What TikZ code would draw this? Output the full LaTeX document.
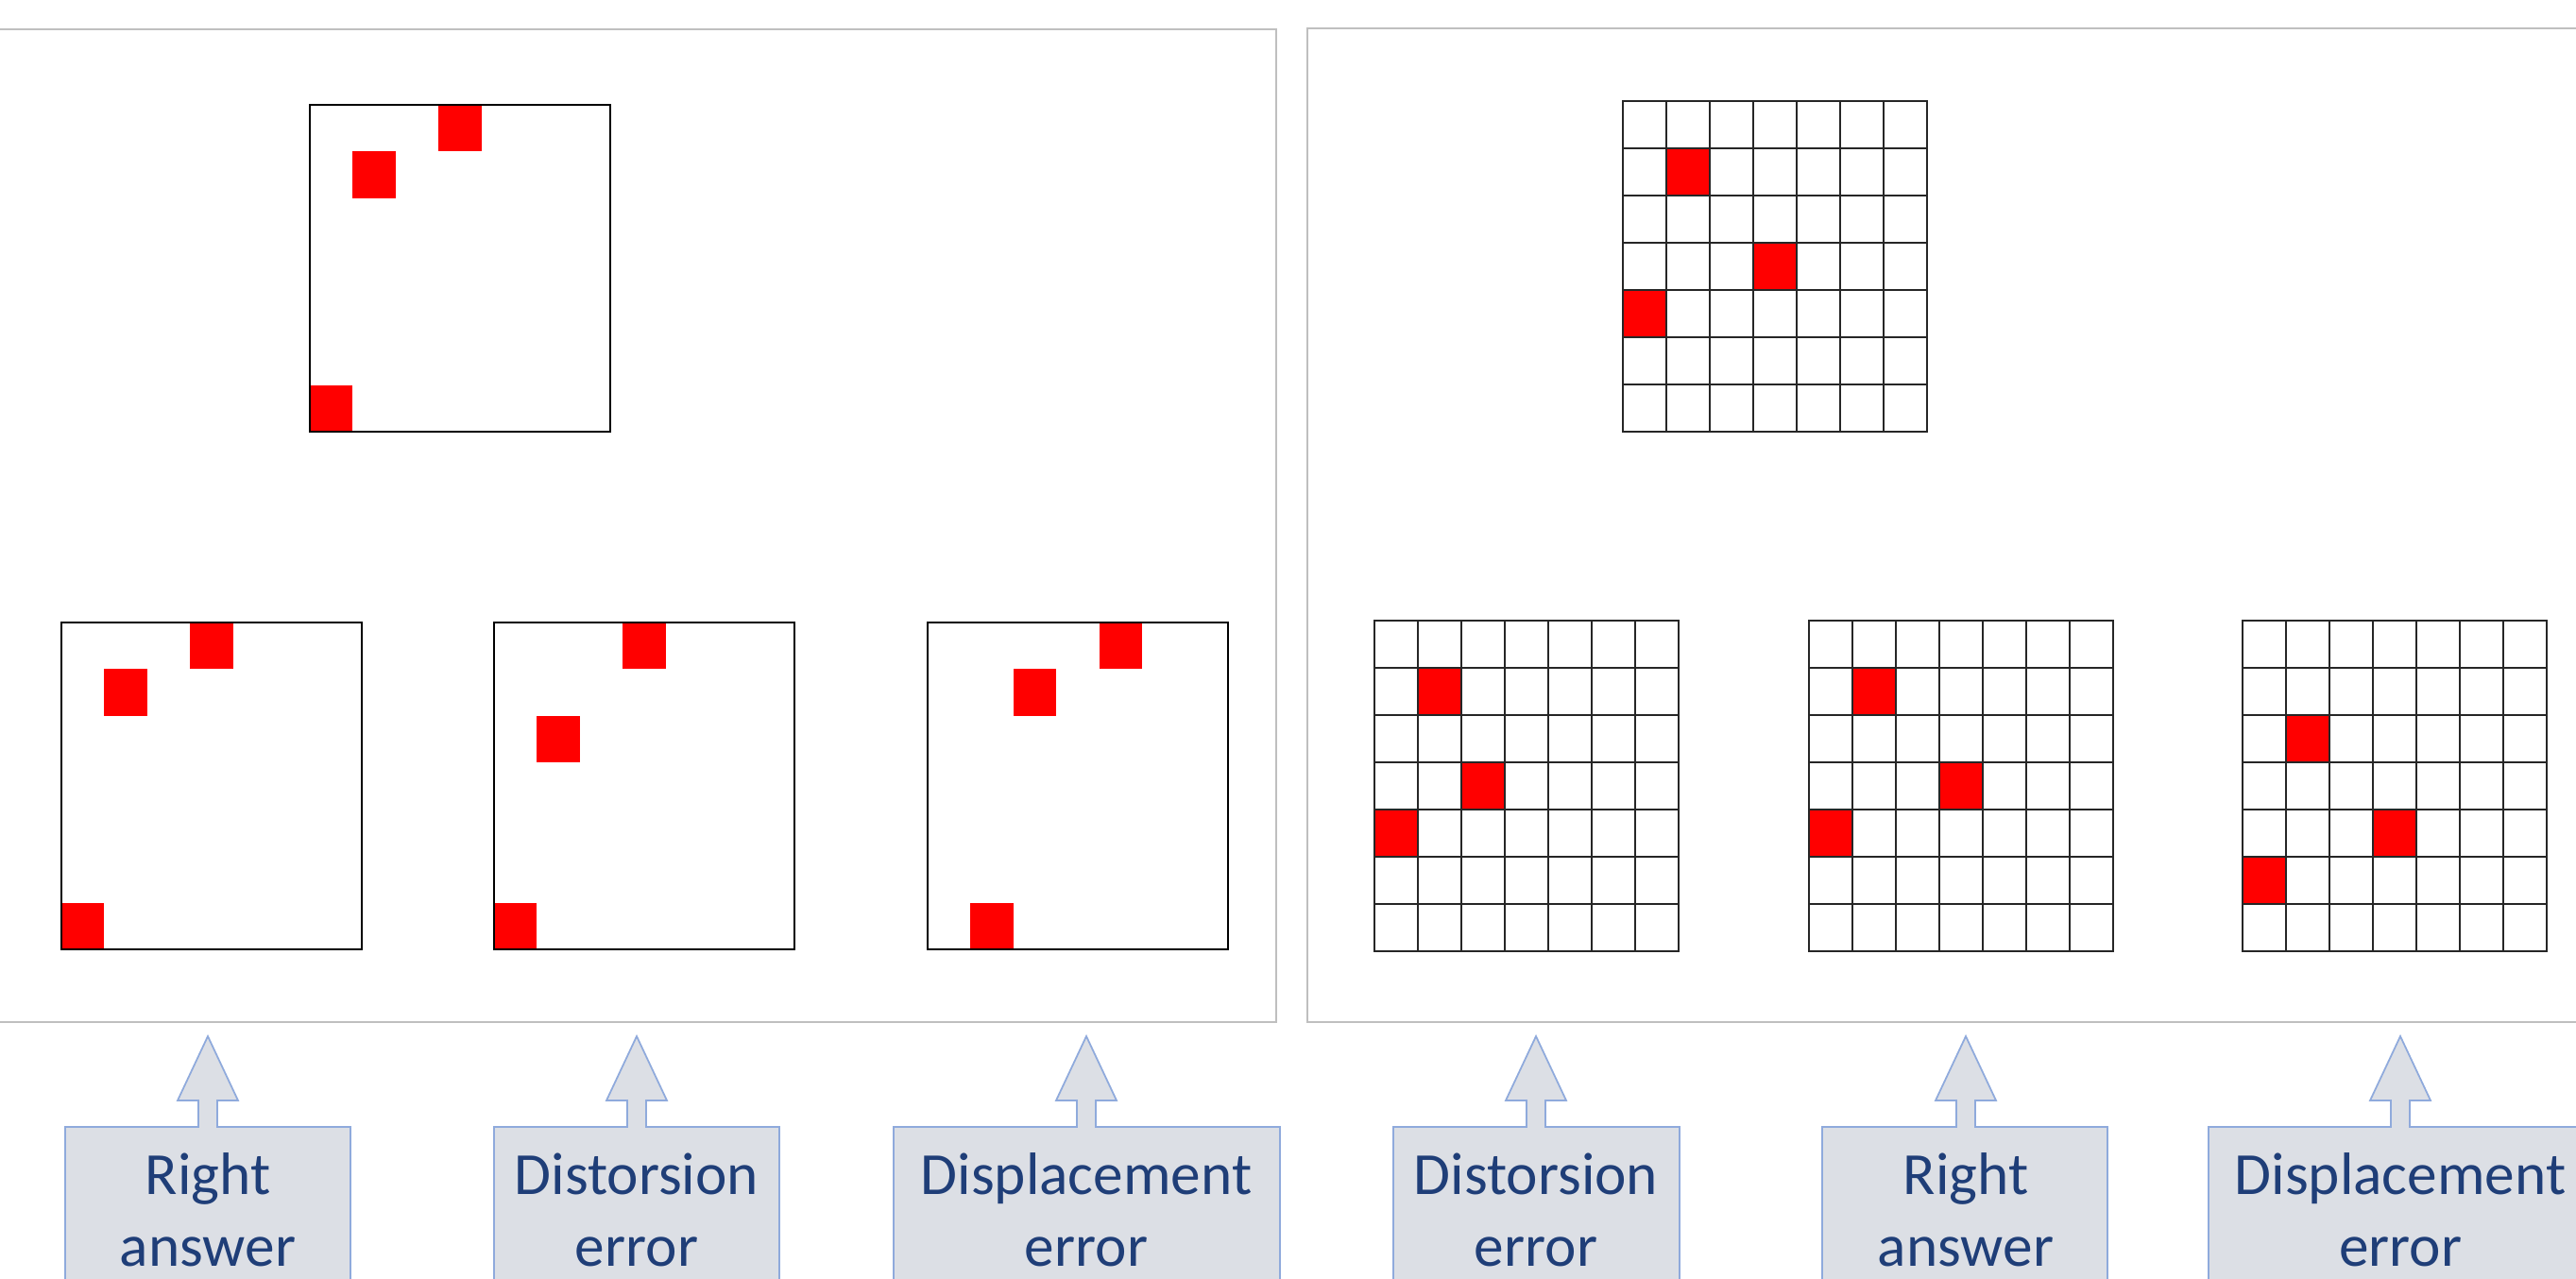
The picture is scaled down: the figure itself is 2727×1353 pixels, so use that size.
\documentclass[tikz,border=0pt]{standalone}
\usepackage{fontspec}
\setmainfont{Carlito}
\definecolor{redsq}{RGB}{255,0,0}
\definecolor{panelgray}{RGB}{191,191,191}
\definecolor{callfill}{RGB}{220,223,229}
\definecolor{calldraw}{RGB}{143,170,220}
\definecolor{calltext}{RGB}{31,62,120}
\newcommand\plainbox[4]{% x0, y0, cell list, name
  \foreach \c/\r in {#3}
    \fill[redsq] (#1+\c*45.43,#2+\r*49.43) rectangle ++(45.43,49.43);
  \draw[boxline] (#1,#2) rectangle ++(318,346);
  \coordinate (#4) at (#1+159,#2+173);
}
\newcommand\gridbox[4]{% x0, y0, cell list, name
  \foreach \c/\r in {#3}
    \fill[redsq] (#1+\c*46,#2+\r*50) rectangle ++(46,50);
  \foreach \i in {1,...,6} {
    \draw[gridline] (#1+\i*46,#2) -- ++(0,350);
    \draw[gridline] (#1,#2+\i*50) -- ++(322,0);
  }
  \draw[gridline] (#1,#2) rectangle ++(322,350);
  \coordinate (#4) at (#1+161,#2+175);
}
\newcommand\callout[6]{% name, left, right, centre, line1, line2
  \path[callshape] (#2,1420) -- (#2,1193) -- (#4-10,1193) -- (#4-10,1165)
    -- (#4-32,1165) -- (#4,1097) -- (#4+32,1165) -- (#4+10,1165)
    -- (#4+10,1193) -- (#3,1193) -- (#3,1420);
  \node[lbl] (#1) at (#4,1340) {\begin{tabular}[b]{@{}c@{}}#5\\#6\end{tabular}};
}
\begin{document}
\begin{tikzpicture}[x=0.01cm,y=-0.01cm,
  boxline/.style={draw=black,line width=0.6pt},
  gridline/.style={draw=black!85,line width=0.45pt},
  panel/.style={draw=panelgray,line width=0.5pt},
  callshape/.style={fill=callfill,draw=calldraw,line width=0.5pt},
  lbl/.style={anchor=base,inner sep=0pt,text=calltext,
    font=\fontsize{18}{21.6}\selectfont}]
\useasboundingbox (0,0) rectangle (2727,1353);
\fill[white] (0,0) rectangle (2727,1353);
% panels
\draw[panel] (-10,31) rectangle (1351,1082);
\draw[panel] (1384,30) rectangle (2740,1082);
% left panel boxes
\plainbox{328}{111}{3/0,1/1,0/6}{topL}
\plainbox{65}{659}{3/0,1/1,0/6}{bL1}
\plainbox{523}{659}{3/0,1/2,0/6}{bL2}
\plainbox{982}{659}{4/0,2/1,1/6}{bL3}
% right panel grids
\gridbox{1718}{107}{1/1,3/3,0/4}{topR}
\gridbox{1455}{657}{1/1,2/3,0/4}{bR1}
\gridbox{1915}{657}{1/1,3/3,0/4}{bR2}
\gridbox{2374}{657}{1/2,3/4,0/5}{bR3}
% callouts
\callout{c1}{69}{371}{220}{Right}{answer}
\callout{c2}{523}{825}{674}{Distorsion}{error}
\callout{c3}{946}{1355}{1150}{Displacement}{error}
\callout{c4}{1475}{1778}{1626}{Distorsion}{error}
\callout{c5}{1929}{2231}{2081}{Right}{answer}
\callout{c6}{2338}{2744}{2541}{Displacement}{error}
\end{tikzpicture}
\end{document}
